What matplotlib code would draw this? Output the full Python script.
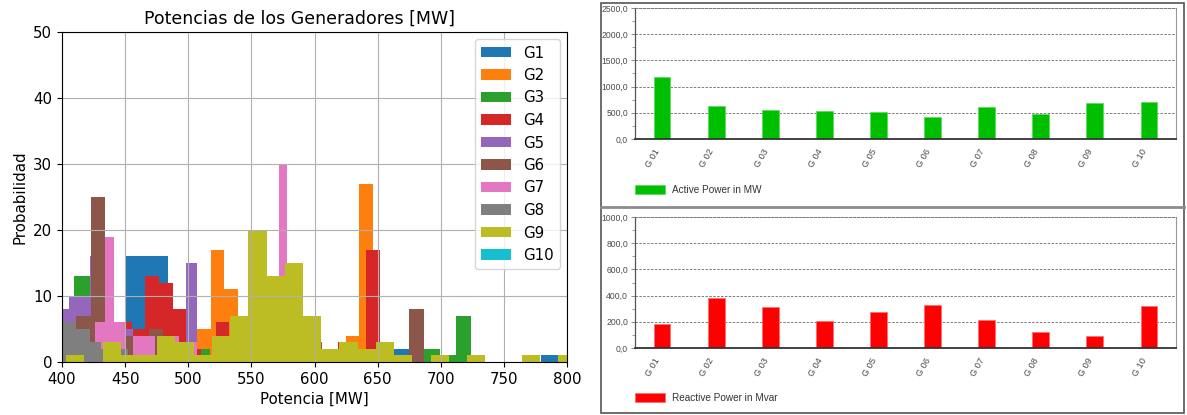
import numpy as np
import matplotlib
matplotlib.use("Agg")
import matplotlib.pyplot as plt
from matplotlib.patches import Patch, Rectangle
from matplotlib.lines import Line2D
from matplotlib.ticker import MultipleLocator, FuncFormatter

# ---------------- Histogram data (bin edges in MW, counts per bin) ----------------
g1_edges = [450.1, 483.9, 507.0, 549.0, 605.0, 662.4, 676.4, 779.6, 793.2]
g1_counts = [16, 5, 4, 6, 2, 2, 0, 1]

g2_edges = [507.0, 517.7, 528.4, 539.2, 549.9, 560.6, 571.3, 582.0, 592.8,
            603.5, 614.2, 624.9, 635.6, 646.4, 657.1]
g2_counts = [5, 17, 11, 4, 4, 7, 8, 5, 3, 1, 2, 4, 27, 2]

g3_edges = [409.8, 421.9, 507.0, 517.6, 686.8, 699.3, 712.3, 724.3]
g3_counts = [13, 0, 2, 0, 2, 1, 7]

g4_edges = [444.0, 455.2, 466.0, 476.6, 487.6, 498.5, 509.9, 521.9, 532.3, 543.0,
            554.0, 565.0, 576.0, 587.0, 598.0, 608.5, 618.6, 630.0, 640.8, 651.6]
g4_counts = [6, 5, 13, 12, 8, 2, 0, 6, 3, 5, 8, 7, 6, 4, 1, 1, 3, 1, 17]

g5_edges = [396.85, 405.3, 413.75, 422.2, 430.65, 439.1, 447.55, 456.0,
            464.45, 472.9, 481.35, 489.8, 498.25, 506.7]
g5_counts = [8, 10, 10, 16, 9, 4, 5, 2, 3, 2, 3, 2, 15]

g6_edges = [411.3, 423.2, 434.2, 445.65, 457.1, 468.55, 480.0, 491.45, 502.9,
            514.35, 525.8, 537.25, 548.7, 560.15, 571.6, 583.05, 594.5, 605.95,
            617.4, 628.85, 640.3, 651.75, 663.2, 674.65, 686.6]
g6_counts = [7, 25, 3, 4, 2, 5, 2, 1, 0, 0, 2, 3, 6, 7, 5, 4, 3, 1, 1, 1, 1, 1, 0, 8]

g7_edges = [426.4, 433.8, 441.0, 449.7, 456.5, 473.8, 489.5, 493.0, 503.5,
            506.7, 571.9, 578.6]
g7_counts = [6, 19, 6, 1, 4, 1, 4, 1, 3, 1, 30]

g8_edges = [389.7, 400.0, 411.3, 421.9, 431.2, 442.0, 452.0]
g8_counts = [3, 6, 5, 3, 2, 2]

g9_edges = [388.8, 403.2, 417.7, 432.1, 446.6, 461.0, 475.4, 489.9, 504.3, 518.8,
            533.2, 547.6, 562.1, 576.5, 591.0, 605.4, 619.8, 634.3, 648.7, 663.2,
            677.6, 692.0, 706.5, 720.9, 735.4, 749.8, 764.2, 778.7, 793.1, 807.6]
g9_counts = [0, 1, 0, 3, 1, 1, 4, 3, 1, 4, 7, 20, 13, 15, 7, 2, 3, 2, 3, 1,
             0, 1, 0, 1, 0, 0, 1, 0, 1]

g10_edges = []
g10_counts = []

gen_names = ["G1", "G2", "G3", "G4", "G5", "G6", "G7", "G8", "G9", "G10"]

# ---------------- Bar chart data ----------------
gen_labels = ["G 01", "G 02", "G 03", "G 04", "G 05",
              "G 06", "G 07", "G 08", "G 09", "G 10"]
active_mw = [1186, 625, 548, 536, 523, 421, 609, 478, 692, 705]
reactive_mvar = [186, 382, 316, 206, 272, 329, 214, 124, 88, 321]

# ---------------- Figure ----------------
W, H = 1187, 415
fig = plt.figure(figsize=(W / 100, H / 100), dpi=100)


def fx(px):
    return px / W


def fy(py):
    return 1 - py / H


# ---------- Left: histogram ----------
ax = fig.add_axes([fx(62), fy(362), fx(567) - fx(62), fy(32) - fy(362)])
series = [
    (g1_edges, g1_counts), (g2_edges, g2_counts), (g3_edges, g3_counts),
    (g4_edges, g4_counts), (g5_edges, g5_counts), (g6_edges, g6_counts),
    (g7_edges, g7_counts), (g8_edges, g8_counts), (g9_edges, g9_counts),
    (g10_edges, g10_counts),
]
for name, (edges, counts) in zip(gen_names, series):
    if len(edges) > 1:
        ax.hist(edges[:-1], bins=edges, weights=counts, label=name)
    else:
        ax.hist([], bins=10, label=name)

ax.set_xlim(400, 800)
ax.set_ylim(0, 50)
ax.xaxis.set_major_locator(MultipleLocator(50))
ax.yaxis.set_major_locator(MultipleLocator(10))
ax.grid(True, color="#b0b0b0", linewidth=0.8)
ax.tick_params(labelsize=10.8)
ax.set_xlabel("Potencia [MW]", fontsize=10.8)
ax.set_ylabel("Probabilidad", fontsize=10.8)
ax.set_title("Potencias de los Generadores [MW]", fontsize=12.5, x=0.471)
ax.legend(loc="upper right", fontsize=10.8)

# ---------- Right: bar charts ----------
rfont = "Liberation Sans"
grey_txt = "#4a4a4a"


def style_bar_axes(a, ymax, major, minor):
    a.set_xlim(-0.5, len(gen_labels) - 0.5)
    a.set_ylim(0, ymax)
    a.yaxis.set_major_locator(MultipleLocator(major))
    a.yaxis.set_minor_locator(MultipleLocator(minor))
    a.yaxis.set_major_formatter(FuncFormatter(lambda v, p: f"{v:.1f}".replace(".", ",")))
    a.grid(True, axis="y", which="major", color="#7a7a7a", linestyle=(0, (2.5, 1.5)),
           linewidth=0.7)
    a.set_axisbelow(True)
    a.set_xticks(range(len(gen_labels)))
    a.set_xticklabels(gen_labels, rotation=60, ha="right", va="top",
                      fontsize=6.6, color=grey_txt, family=rfont)
    a.tick_params(axis="x", length=0, pad=6)
    a.tick_params(axis="y", which="major", length=3, width=0.6, color="#777777",
                  labelsize=6.2, labelcolor=grey_txt, pad=2)
    a.tick_params(axis="y", which="minor", length=2, width=0.5, color="#777777")
    for lab in a.get_yticklabels():
        lab.set_family(rfont)
    a.spines["left"].set_color("#555555")
    a.spines["left"].set_linewidth(0.9)
    a.spines["bottom"].set_color("#333333")
    a.spines["bottom"].set_linewidth(1.3)
    a.spines["right"].set_color("#999999")
    a.spines["right"].set_linestyle((0, (1, 1)))
    a.spines["right"].set_linewidth(0.8)
    a.spines["top"].set_color("#7a7a7a")
    a.spines["top"].set_linestyle((0, (2.5, 1.5)))
    a.spines["top"].set_linewidth(0.7)


def bar_legend(a, color, edge, text, ypx):
    a.legend(handles=[Patch(facecolor=color, edgecolor=edge, linewidth=0.6, label=text)],
             loc="center left", bbox_to_anchor=(fx(635), fy(ypx)),
             bbox_transform=fig.transFigure, frameon=False, borderaxespad=0,
             borderpad=0, prop={"family": rfont, "size": 7.2}, handlelength=3.0,
             handleheight=1.0, handletextpad=0.7, labelcolor="#333333")


axA = fig.add_axes([fx(635), fy(139), fx(1176) - fx(635), fy(8) - fy(139)])
axA.bar(range(len(gen_labels)), active_mw, width=0.31, color="#00bf00",
        edgecolor="#5fdc5f", linewidth=0.6)
style_bar_axes(axA, 2500, 500, 250)
bar_legend(axA, "#00bf00", "#5fdc5f", "Active Power in MW", 190)

axR = fig.add_axes([fx(635), fy(348), fx(1176) - fx(635), fy(217) - fy(348)])
axR.bar(range(len(gen_labels)), reactive_mvar, width=0.31, color="#ff0000",
        edgecolor="#ff7070", linewidth=0.6)
style_bar_axes(axR, 1000, 200, 100)
bar_legend(axR, "#ff0000", "#ff7070", "Reactive Power in Mvar", 398)

# panel frame
fig.add_artist(Rectangle((fx(601), fy(413)), fx(1184) - fx(601), fy(3) - fy(413),
                         transform=fig.transFigure, fill=False,
                         edgecolor="#555555", linewidth=1.2))
fig.add_artist(Line2D([fx(601), fx(1184)], [fy(207), fy(207)],
                      transform=fig.transFigure, color="#8c8c8c", linewidth=2.0))

fig.savefig("out.png", dpi=100)
